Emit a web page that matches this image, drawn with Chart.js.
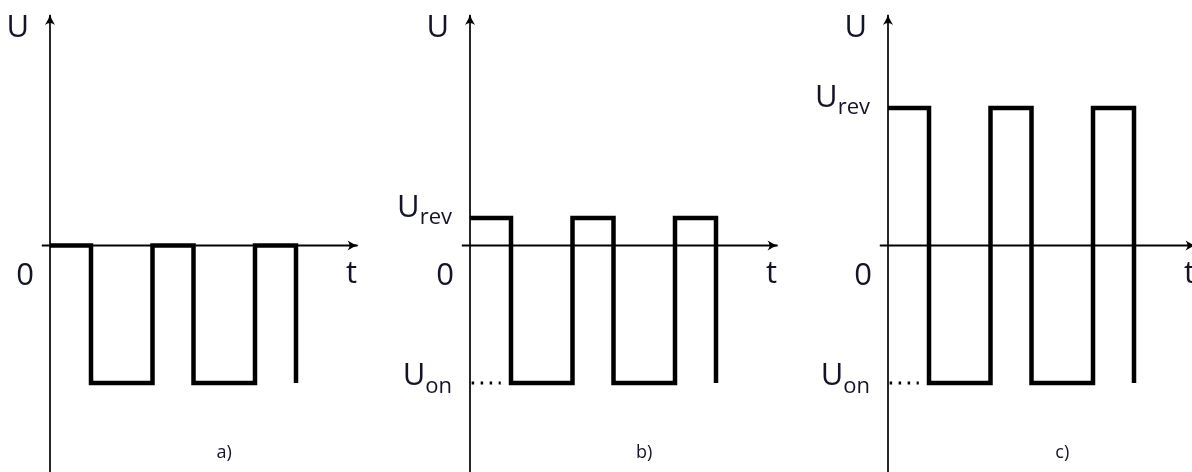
<!DOCTYPE html>
<html>
<head>
<meta charset="utf-8">
<script src="https://cdn.jsdelivr.net/npm/chart.js@4.4.1/dist/chart.umd.min.js"></script>
<style>
  body { margin: 0; background: #fff; }
  #wrap { position: relative; width: 1192px; height: 472px; overflow: hidden; }
  .panel { position: absolute; top: 0; width: 430px; height: 472px; }
</style>
</head>
<body>
<div id="wrap">
  <div class="panel" style="left:-30px"><canvas id="chartA" width="430" height="472"></canvas></div>
  <div class="panel" style="left:390px"><canvas id="chartB" width="430" height="472"></canvas></div>
  <div class="panel" style="left:808px"><canvas id="chartC" width="430" height="472"></canvas></div>
</div>
<script>
// switching instants of the pulse train, same in all three diagrams
const switchTimes = [0, 2, 5, 7, 10, 12];
const uOn = -1;
const highLevels = [0, 0.2, 1.0];   // a) no reverse voltage, b) small U_rev, c) large U_rev
const panelNames = ['a)', 'b)', 'c)'];
const revLabel = [false, true, true];
const onLabel = [false, true, true];
const tAxis = [-0.4, 15];
const uAxis = [-1.75, 1.676];
const dotsFrom = [0.08, 1.5];

const ink = '#000';
const textInk = '#141428';
const font = '"Open Sans", "DejaVu Sans", sans-serif';

function arrowHead(ctx, x, y, ang) {
  ctx.save();
  ctx.translate(x, y);
  ctx.rotate(ang);
  ctx.fillStyle = ink;
  ctx.beginPath();
  ctx.moveTo(1, 0);
  ctx.quadraticCurveTo(-4, -1, -10, -5);
  ctx.quadraticCurveTo(-6, 0, -10, 5);
  ctx.quadraticCurveTo(-4, 1, 1, 0);
  ctx.fill();
  ctx.restore();
}

function subLabel(ctx, main, sub, xRight, base, subDrop) {
  ctx.textBaseline = 'alphabetic';
  ctx.font = '22px ' + font;
  const w = ctx.measureText(sub).width;
  ctx.textAlign = 'left';
  ctx.fillText(sub, xRight - w, base + subDrop);
  ctx.font = '31px ' + font;
  ctx.textAlign = 'right';
  ctx.fillText(main, xRight - w, base);
}

const axisDecor = {
  id: 'axisDecor',
  afterDatasetsDraw(chart) {
    const ctx = chart.ctx;
    chart.data.datasets.forEach((ds, i) => {
      if (!ds.arrow) return;
      const pts = chart.getDatasetMeta(i).data;
      const a = pts[pts.length - 2], b = pts[pts.length - 1];
      arrowHead(ctx, b.x, b.y, Math.atan2(b.y - a.y, b.x - a.x));
    });
  },
  afterDraw(chart, args, opts) {
    const ctx = chart.ctx;
    const xs = chart.scales.x, ys = chart.scales.y;
    const x0 = xs.getPixelForValue(0);
    const y0 = ys.getPixelForValue(0);
    ctx.save();
    ctx.fillStyle = textInk;
    ctx.font = '31px ' + font;
    ctx.textBaseline = 'middle';
    ctx.textAlign = 'right';
    ctx.fillText('U', x0 - 21, ys.getPixelForValue(uAxis[1]) + 13);
    ctx.fillText('0', x0 - 16, y0 + 31);
    ctx.textAlign = 'center';
    ctx.fillText('t', xs.getPixelForValue(tAxis[1]) - 6, y0 + 29);
    if (opts.rev) {
      subLabel(ctx, 'U', 'rev', x0 - 18, ys.getPixelForValue(opts.high) - 1, 7);
    }
    if (opts.on) {
      subLabel(ctx, 'U', 'on', x0 - 18, ys.getPixelForValue(uOn) + 2, 8);
    }
    ctx.font = '18px ' + font;
    ctx.textAlign = 'center';
    ctx.textBaseline = 'middle';
    ctx.fillText(opts.name, xs.getPixelForValue(8.5), 453);
    ctx.restore();
  }
};

function makePanel(id, k) {
  const high = highLevels[k];
  const wave = switchTimes.map((t, i) => ({ x: t, y: i % 2 === 0 ? high : uOn }));
  const datasets = [
    { data: [{ x: 0, y: uAxis[0] }, { x: 0, y: uAxis[1] }], borderWidth: 1.7, arrow: true },
    { data: [{ x: tAxis[0], y: 0 }, { x: tAxis[1], y: 0 }], borderWidth: 1.9, arrow: true },
    { data: wave, stepped: 'before', borderWidth: 4.5 }
  ];
  if (onLabel[k]) {
    datasets.push({ data: [{ x: dotsFrom[0], y: uOn }, { x: dotsFrom[1], y: uOn }],
      borderWidth: 3, borderDash: [2.5, 6.5] });
  }
  datasets.forEach(d => {
    d.borderColor = ink;
    d.pointRadius = 0;
    d.clip = false;
    d.tension = 0;
    d.borderCapStyle = 'butt';
    d.borderJoinStyle = 'miter';
  });
  return new Chart(document.getElementById(id), {
    type: 'line',
    data: { datasets: datasets },
    options: {
      responsive: false,
      animation: false,
      layout: { autoPadding: false, padding: { left: 39, right: 22, top: 11.75, bottom: 6.5 } },
      scales: {
        x: { type: 'linear', min: -2, max: 16, display: false },
        y: { type: 'linear', min: -1.6, max: 1.7, display: false }
      },
      plugins: {
        legend: { display: false },
        tooltip: { enabled: false },
        axisDecor: { name: panelNames[k], rev: revLabel[k], on: onLabel[k], high: high }
      }
    },
    plugins: [axisDecor]
  });
}

makePanel('chartA', 0);
makePanel('chartB', 1);
makePanel('chartC', 2);
</script>
</body>
</html>
